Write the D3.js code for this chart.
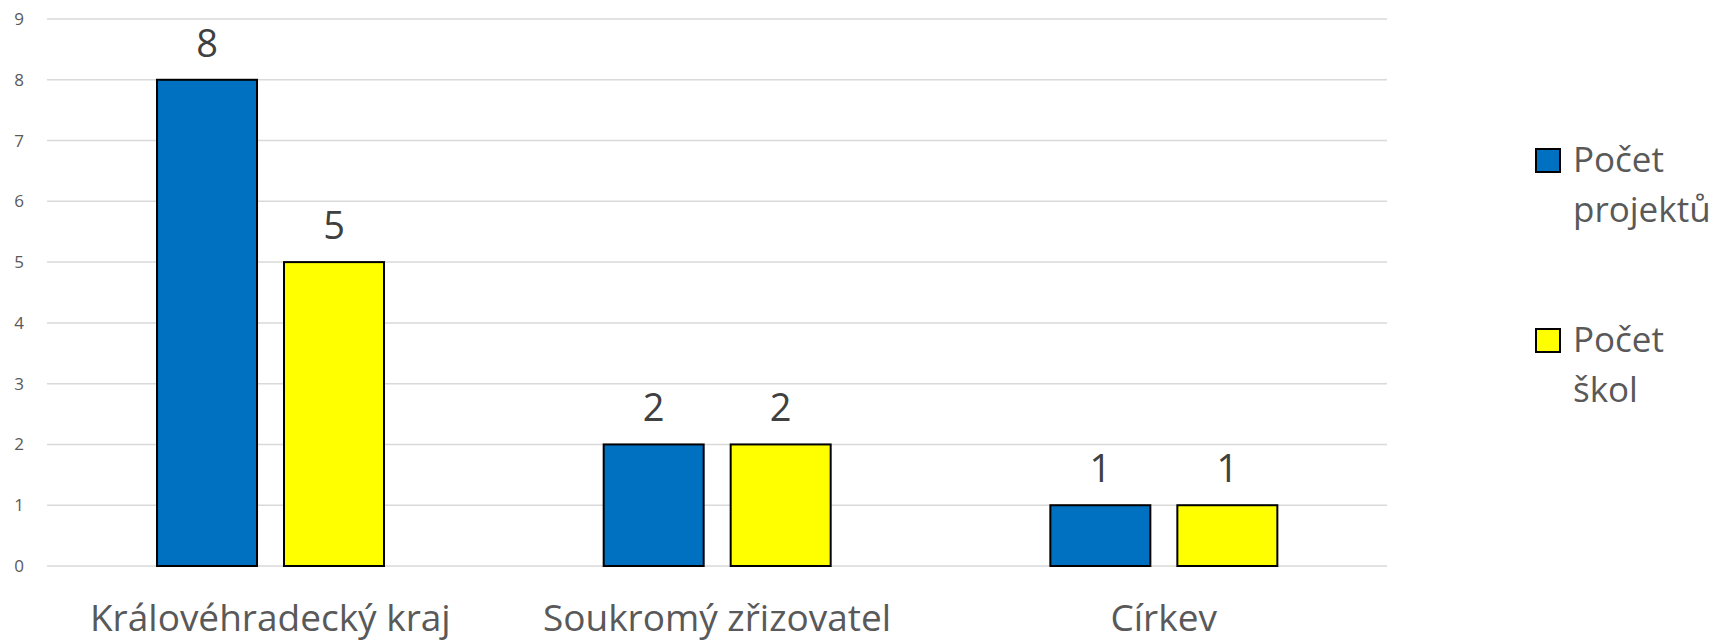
<!DOCTYPE html>
<html>
<head>
<meta charset="utf-8">
<script src="https://cdn.jsdelivr.net/npm/d3@7"></script>
<style>
  body { margin: 0; background: #fff; }
</style>
</head>
<body>
<svg></svg>
<script>
const WIDTH = 1733;
const HEIGHT = 642;

const categories = ['Královéhradecký kraj', 'Soukromý zřizovatel', 'Církev'];
const seriesNames = ['Počet projektů', 'Počet škol'];
const seriesLegend = [['Počet', 'projektů'], ['Počet', 'škol']];
const projekty = [8, 2, 1];
const skoly = [5, 2, 1];
const yTicks = [0, 1, 2, 3, 4, 5, 6, 7, 8, 9];
const colors = ['#0070C0', '#FFFF00'];

const PLOT_LEFT = 47;
const PLOT_RIGHT = 1387;
const PLOT_TOP = 19;
const PLOT_BOTTOM = 566;
const FONT = '"Open Sans", sans-serif';
const TEXT_COLOR = '#595959';

// one entry per bar
const bars = [];
categories.forEach((c, i) => {
  bars.push({ cat: c, series: seriesNames[0], idx: 0, value: projekty[i] });
  bars.push({ cat: c, series: seriesNames[1], idx: 1, value: skoly[i] });
});

const svg = d3.select('svg').
attr('width', WIDTH).
attr('height', HEIGHT).
attr('font-family', FONT);

const y = d3.scaleLinear().
domain([0, 9]).
range([PLOT_BOTTOM, PLOT_TOP]);

const x0 = d3.scaleBand().
domain(categories).
range([PLOT_LEFT, PLOT_RIGHT]);

// bars sit in the middle of each category, 100px wide with a 27px gap
const bw = x0.bandwidth();
const x1 = d3.scaleBand().
domain(seriesNames).
range([bw * 0.2463, bw * 0.7545]).
paddingInner(0.2126);

const barX = d => x0(d.cat) + x1(d.series);

// gridlines
svg.append('g').
selectAll('line.grid').
data(yTicks).
enter().
append('line').
attr('class', 'grid').
attr('x1', PLOT_LEFT).
attr('x2', PLOT_RIGHT).
attr('y1', d => y(d)).
attr('y2', d => y(d)).
attr('stroke', '#d9d9d9').
attr('stroke-width', 1.5);

// y tick labels
svg.append('g').
selectAll('text.ytick').
data(yTicks).
enter().
append('text').
attr('class', 'ytick').
attr('x', 24).
attr('y', d => y(d) + 6).
attr('text-anchor', 'end').
attr('font-size', '17px').
attr('fill', TEXT_COLOR).
text(d => String(d));

// bars
svg.append('g').
selectAll('rect.bar').
data(bars).
enter().
append('rect').
attr('class', 'bar').
attr('x', barX).
attr('y', d => y(d.value)).
attr('width', x1.bandwidth()).
attr('height', d => y(0) - y(d.value)).
attr('fill', d => colors[d.idx]).
attr('stroke', '#000').
attr('stroke-width', 2);

// value labels
svg.append('g').
selectAll('text.vlabel').
data(bars).
enter().
append('text').
attr('class', 'vlabel').
attr('x', d => barX(d) + x1.bandwidth() / 2).
attr('y', d => y(d.value) - 23).
attr('text-anchor', 'middle').
attr('font-size', '38px').
attr('fill', '#404040').
text(d => String(d.value));

// category labels
svg.append('g').
selectAll('text.cat').
data(categories).
enter().
append('text').
attr('class', 'cat').
attr('x', d => x0(d) + bw / 2).
attr('y', 631).
attr('text-anchor', 'middle').
attr('font-size', '37px').
attr('fill', TEXT_COLOR).
text(d => d);

// legend
const legendTop = [149, 329];
const legend = svg.append('g').
selectAll('g.leg').
data(seriesLegend).
enter().
append('g').
attr('class', 'leg').
attr('transform', (d, i) => `translate(1536, ${legendTop[i]})`);

legend.append('rect').
attr('width', 24).
attr('height', 23).
attr('fill', (d, i) => colors[i]).
attr('stroke', '#000').
attr('stroke-width', 2);

legend.append('text').
attr('font-size', '35px').
attr('fill', TEXT_COLOR).
selectAll('tspan').
data(d => d).
enter().
append('tspan').
attr('x', 37).
attr('y', (d, i) => 23 + i * 50).
text(d => d);
</script>
</body>
</html>
